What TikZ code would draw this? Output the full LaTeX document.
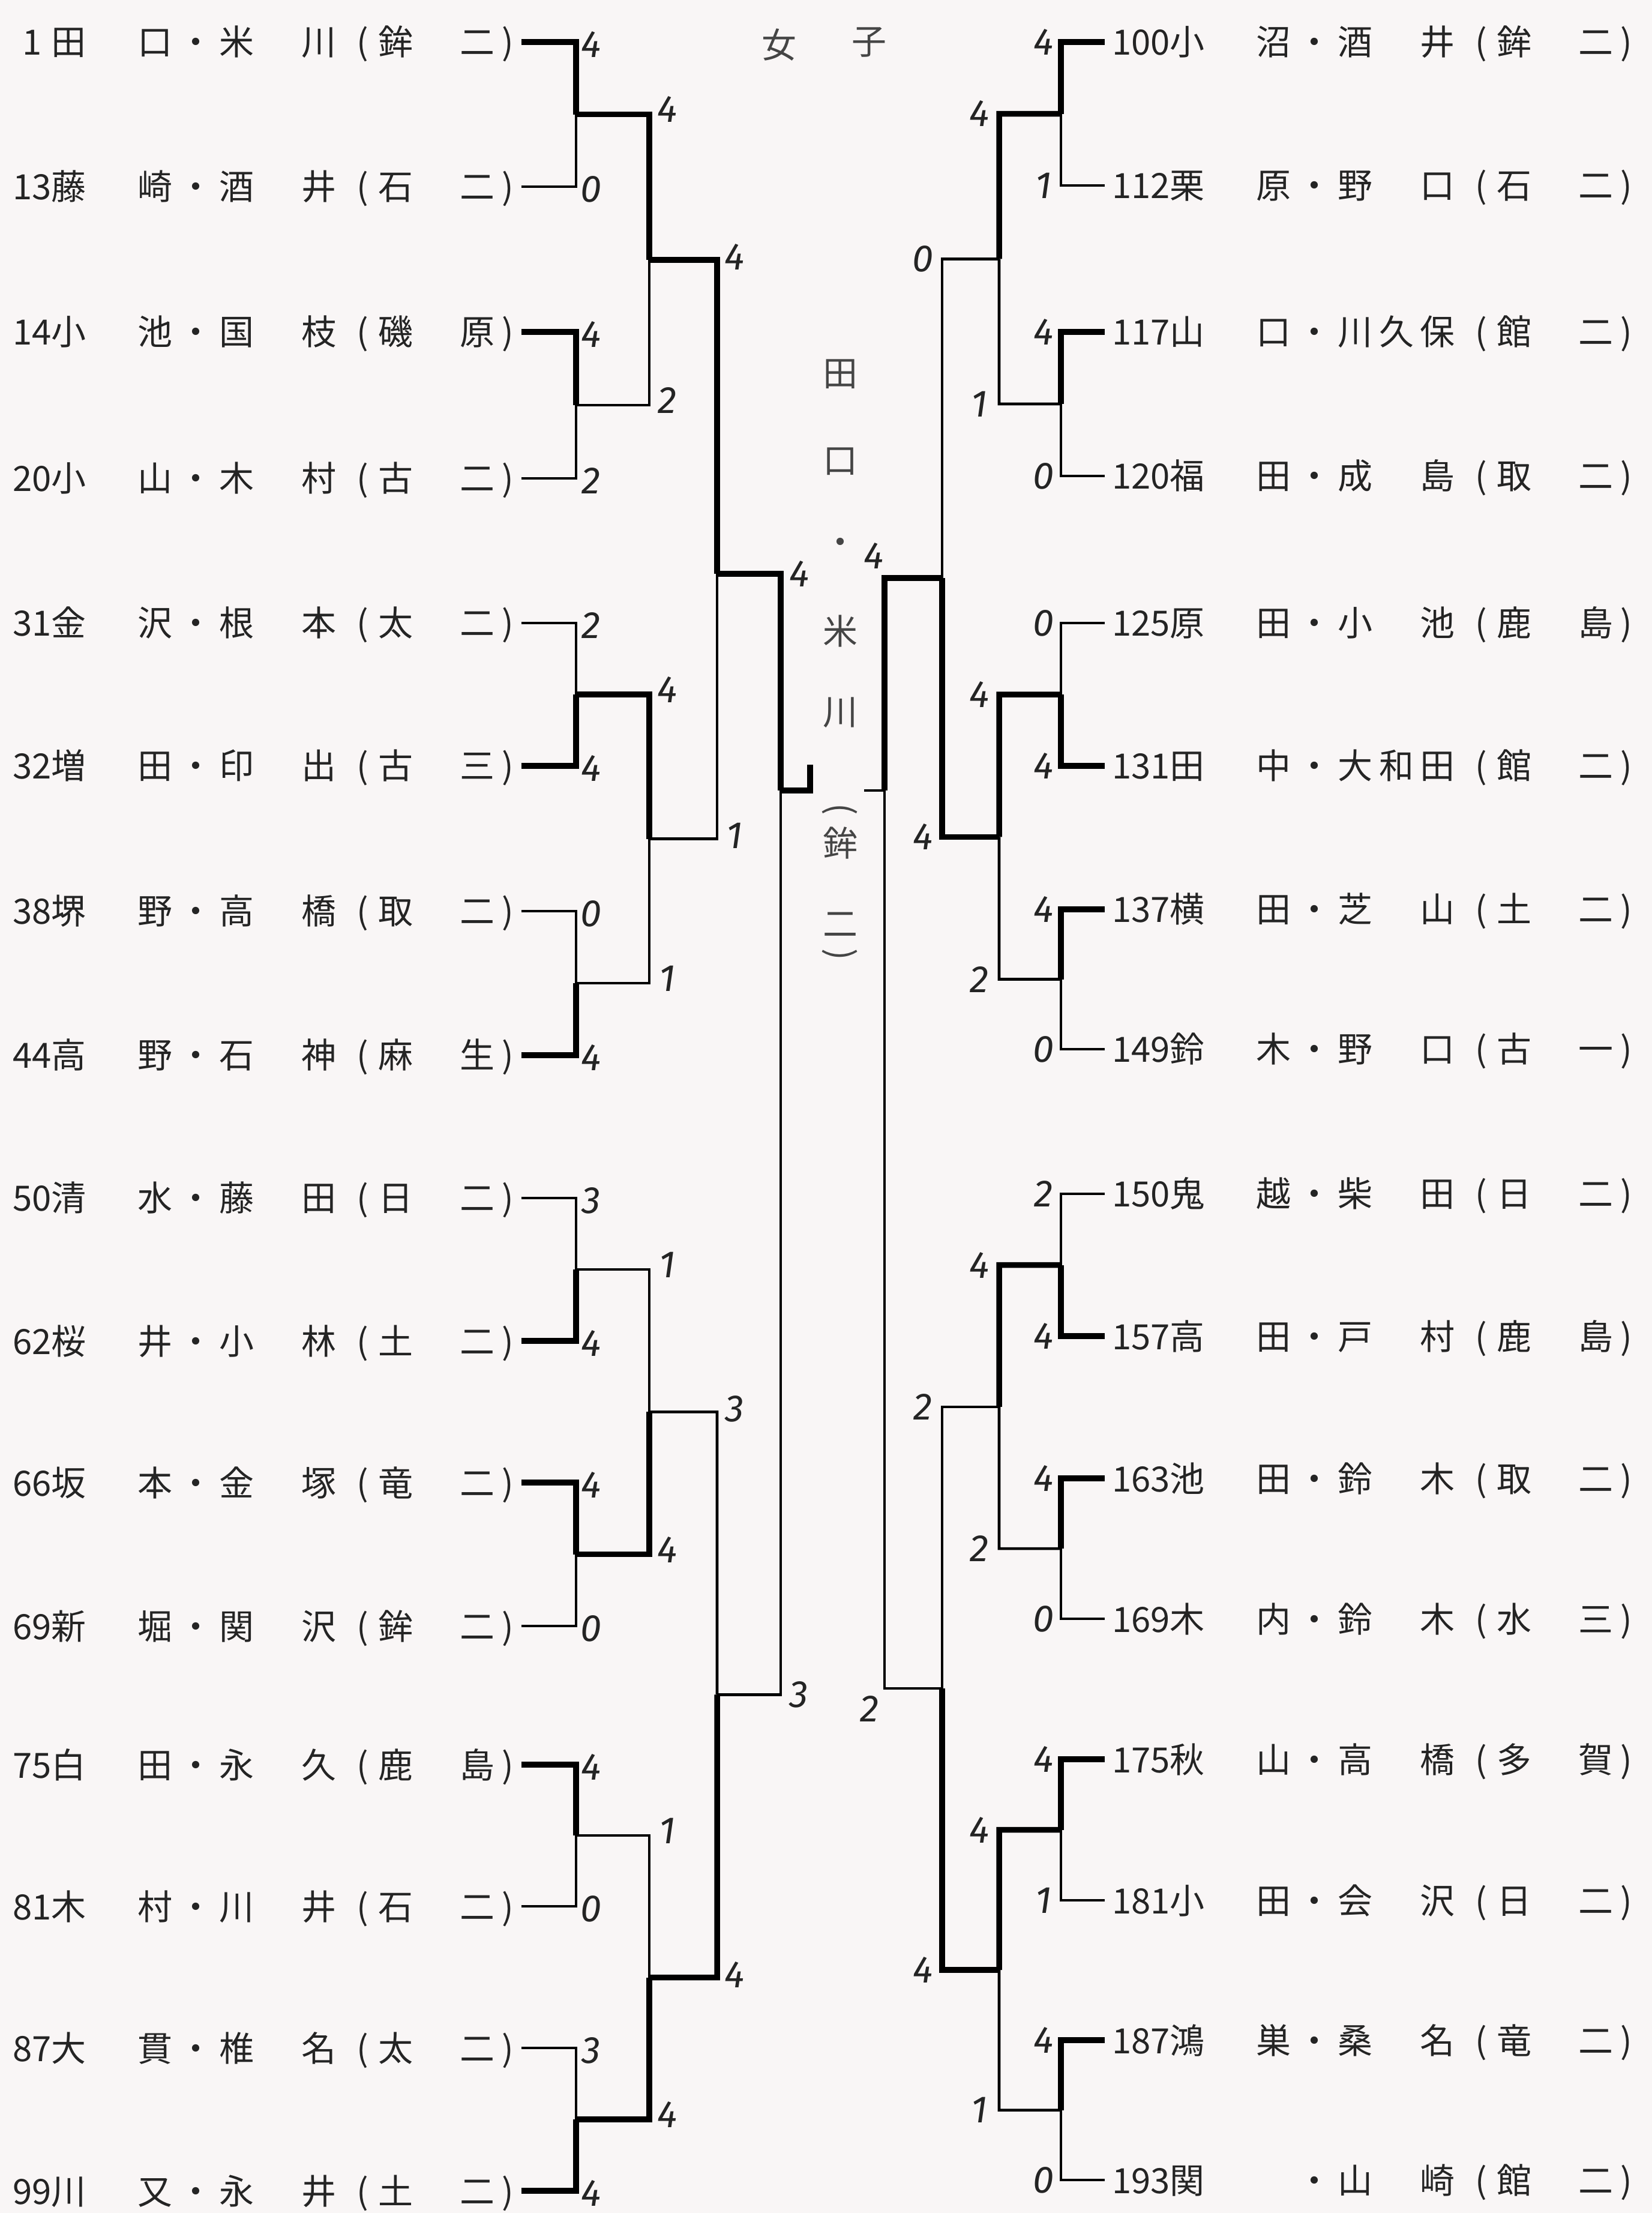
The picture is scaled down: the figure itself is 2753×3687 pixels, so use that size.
\documentclass[tikz,border=0pt]{standalone}
\usepackage{fontspec}
\usepackage{tikz}
\usetikzlibrary{calc}

\newfontfamily\jp{Noto Sans CJK JP}
\newfontfamily\hand{Fira Sans}
\definecolor{paper}{HTML}{F9F6F6}
\definecolor{ink}{HTML}{242424}

\newlength\px
\setlength\px{0.1mm}
\newcommand\jfont{\jp\fontsize{16.5pt}{18pt}\selectfont}
\newcommand\sfont{\hand\fontsize{18pt}{18pt}\selectfont\itshape}

% one pairing: number width, number, first name, second name, school
\newcommand\entry[5]{%
  \makebox[#1\px]{#2}%
  \hbox to 202\px{#3}%
  \makebox[78\px]{・}%
  \hbox to 195\px{#4}%
  \makebox[70\px][r]{(\hspace{17\px}}%
  \hbox to 194\px{#5}%
  \hspace{12\px})}

% one bout: top start, top corner, bottom start, bottom corner, join, winner (0 top, 1 bottom)
\newcommand\bout[6]{%
  \ifnum#6=0
    \draw[won] (#1) -- (#2) -- (#5);
    \draw[lost] (#3) -- (#4) -- (#5);
  \else
    \draw[lost] (#1) -- (#2) -- (#5);
    \draw[won] (#3) -- (#4) -- (#5);
  \fi}

\tikzset{
  entry/.style={anchor=west, inner sep=0pt, outer xsep=3.4pt, text height=14.5pt, text depth=2pt, font=\jfont, text=ink},
  score/.style={inner sep=0pt, font=\sfont, text=ink},
  champ/.style={inner sep=0pt, font=\jfont, text=ink!85},
  won/.style={line width=2.7pt},
  lost/.style={line width=1.3pt},
}

\begin{document}
\begin{tikzpicture}[x=0.1mm,y=-0.1mm]
    % Paper
    \fill[paper] (0,0) rectangle (2753,3687);
    \useasboundingbox (0,0) rectangle (2753,3687);

    % Title
    \node[champ] (ttl1) at (1298,75) {女};
    \node[champ] (ttl2) at (1448,70) {子};

    % Left pairings
    \node[entry] (L0) at (10,70) {\entry{64}{1}{田\hfil 口}{米\hfil 川}{鉾\hfil 二}};
    \node[entry] (L1) at (10,311) {\entry{64}{13}{藤\hfil 崎}{酒\hfil 井}{石\hfil 二}};
    \node[entry] (L2) at (10,553) {\entry{64}{14}{小\hfil 池}{国\hfil 枝}{磯\hfil 原}};
    \node[entry] (L3) at (10,797) {\entry{64}{20}{小\hfil 山}{木\hfil 村}{古\hfil 二}};
    \node[entry] (L4) at (10,1038) {\entry{64}{31}{金\hfil 沢}{根\hfil 本}{太\hfil 二}};
    \node[entry] (L5) at (10,1276) {\entry{64}{32}{増\hfil 田}{印\hfil 出}{古\hfil 三}};
    \node[entry] (L6) at (10,1518) {\entry{64}{38}{堺\hfil 野}{高\hfil 橋}{取\hfil 二}};
    \node[entry] (L7) at (10,1758) {\entry{64}{44}{高\hfil 野}{石\hfil 神}{麻\hfil 生}};
    \node[entry] (L8) at (10,1996) {\entry{64}{50}{清\hfil 水}{藤\hfil 田}{日\hfil 二}};
    \node[entry] (L9) at (10,2234) {\entry{64}{62}{桜\hfil 井}{小\hfil 林}{土\hfil 二}};
    \node[entry] (L10) at (10,2470) {\entry{64}{66}{坂\hfil 本}{金\hfil 塚}{竜\hfil 二}};
    \node[entry] (L11) at (10,2709) {\entry{64}{69}{新\hfil 堀}{関\hfil 沢}{鉾\hfil 二}};
    \node[entry] (L12) at (10,2940) {\entry{64}{75}{白\hfil 田}{永\hfil 久}{鹿\hfil 島}};
    \node[entry] (L13) at (10,3176) {\entry{64}{81}{木\hfil 村}{川\hfil 井}{石\hfil 二}};
    \node[entry] (L14) at (10,3412) {\entry{64}{87}{大\hfil 貫}{椎\hfil 名}{太\hfil 二}};
    \node[entry] (L15) at (10,3650) {\entry{64}{99}{川\hfil 又}{永\hfil 井}{土\hfil 二}};

    % Right pairings
    \node[entry] (R0) at (1841,70) {\entry{97}{100}{小\hfil 沼}{酒\hfil 井}{鉾\hfil 二}};
    \node[entry] (R1) at (1841,309) {\entry{97}{112}{栗\hfil 原}{野\hfil 口}{石\hfil 二}};
    \node[entry] (R2) at (1841,553) {\entry{97}{117}{山\hfil 口}{川\hfil 久\hfil 保}{館\hfil 二}};
    \node[entry] (R3) at (1841,793) {\entry{97}{120}{福\hfil 田}{成\hfil 島}{取\hfil 二}};
    \node[entry] (R4) at (1841,1038) {\entry{97}{125}{原\hfil 田}{小\hfil 池}{鹿\hfil 島}};
    \node[entry] (R5) at (1841,1276) {\entry{97}{131}{田\hfil 中}{大\hfil 和\hfil 田}{館\hfil 二}};
    \node[entry] (R6) at (1841,1515) {\entry{97}{137}{横\hfil 田}{芝\hfil 山}{土\hfil 二}};
    \node[entry] (R7) at (1841,1748) {\entry{97}{149}{鈴\hfil 木}{野\hfil 口}{古\hfil 一}};
    \node[entry] (R8) at (1841,1989) {\entry{97}{150}{鬼\hfil 越}{柴\hfil 田}{日\hfil 二}};
    \node[entry] (R9) at (1841,2226) {\entry{97}{157}{高\hfil 田}{戸\hfil 村}{鹿\hfil 島}};
    \node[entry] (R10) at (1841,2463) {\entry{97}{163}{池\hfil 田}{鈴\hfil 木}{取\hfil 二}};
    \node[entry] (R11) at (1841,2697) {\entry{97}{169}{木\hfil 内}{鈴\hfil 木}{水\hfil 三}};
    \node[entry] (R12) at (1841,2931) {\entry{97}{175}{秋\hfil 山}{高\hfil 橋}{多\hfil 賀}};
    \node[entry] (R13) at (1841,3166) {\entry{97}{181}{小\hfil 田}{会\hfil 沢}{日\hfil 二}};
    \node[entry] (R14) at (1841,3399) {\entry{97}{187}{鴻\hfil 巣}{桑\hfil 名}{竜\hfil 二}};
    \node[entry] (R15) at (1841,3632) {\entry{97}{193}{関\hfil}{山\hfil 崎}{館\hfil 二}};

    % Left bracket
    \coordinate (lr1) at (960,0);
    \coordinate (lr2) at (1082,0);
    \coordinate (lr3) at (1195,0);
    \coordinate (lr4) at (1301,0);
    \foreach \k/\w in {0/0,1/0,2/1,3/1,4/1,5/0,6/0,7/1}{
        \pgfmathtruncatemacro\hi{2*\k}
        \pgfmathtruncatemacro\lo{2*\k+1}
        \coordinate (lj1\k) at ($(L\hi.east -| lr1)!.5!(L\lo.east -| lr1)$);
        \bout{L\hi.east}{L\hi.east -| lr1}{L\lo.east}{L\lo.east -| lr1}{lj1\k}{\w}
    }
    \foreach \m/\w in {0/0,1/0,2/1,3/1}{
        \pgfmathtruncatemacro\hi{2*\m}
        \pgfmathtruncatemacro\lo{2*\m+1}
        \coordinate (lj2\m) at ($(lj1\hi -| lr2)!.5!(lj1\lo -| lr2)$);
        \bout{lj1\hi}{lj1\hi -| lr2}{lj1\lo}{lj1\lo -| lr2}{lj2\m}{\w}
    }
    \coordinate (lj30) at (1195,956);
    \coordinate (lj31) at ($(lj22 -| lr3)!.5!(lj23 -| lr3)$);
    \bout{lj20}{lj20 -| lr3}{lj21}{lj21 -| lr3}{lj30}{0}
    \bout{lj22}{lj22 -| lr3}{lj23}{lj23 -| lr3}{lj31}{1}
    \coordinate (lfin) at (1301,1317);
    \bout{lj30}{lj30 -| lr4}{lj31}{lj31 -| lr4}{lfin}{0}
    \coordinate (lhook) at (1350,1274);
    \draw[won] (lfin) -| (lhook);

    % Right bracket
    \coordinate (rr1) at (1768,0);
    \coordinate (rr2) at (1665,0);
    \coordinate (rr3) at (1570,0);
    \coordinate (rr4) at (1474,0);
    \foreach \k/\w in {0/0,1/0,2/1,3/0,4/1,5/0,6/0,7/0}{
        \pgfmathtruncatemacro\hi{2*\k}
        \pgfmathtruncatemacro\lo{2*\k+1}
        \coordinate (rj1\k) at ($(R\hi.west -| rr1)!.5!(R\lo.west -| rr1)$);
        \bout{R\hi.west}{R\hi.west -| rr1}{R\lo.west}{R\lo.west -| rr1}{rj1\k}{\w}
    }
    \foreach \m/\w in {0/0,1/0,2/0,3/0}{
        \pgfmathtruncatemacro\hi{2*\m}
        \pgfmathtruncatemacro\lo{2*\m+1}
        \coordinate (rj2\m) at ($(rj1\hi -| rr2)!.5!(rj1\lo -| rr2)$);
        \bout{rj1\hi}{rj1\hi -| rr2}{rj1\lo}{rj1\lo -| rr2}{rj2\m}{\w}
    }
    \coordinate (rj30) at (1570,963);
    \coordinate (rj31) at ($(rj22 -| rr3)!.5!(rj23 -| rr3)$);
    \bout{rj20}{rj20 -| rr3}{rj21}{rj21 -| rr3}{rj30}{1}
    \bout{rj22}{rj22 -| rr3}{rj23}{rj23 -| rr3}{rj31}{1}
    \coordinate (rfin) at (1474,1317);
    \bout{rj30}{rj30 -| rr4}{rj31}{rj31 -| rr4}{rfin}{0}
    \coordinate (rstub) at (1440,1317);
    \draw[lost] (rfin) -- (rstub);

    % Scores
    \foreach \s [count=\i from 0] in {4,0,4,2,2,4,0,4,3,4,4,0,4,0,3,4}
        \node[score] (ls1\i) at ($(L\i.east -| lr1)+(25,4)$) {\s};
    \foreach \s [count=\k from 0] in {4,2,4,1,1,4,1,4}
        \node[score] (ls2\k) at ($(lj1\k -| lr2)+(30,-8)$) {\s};
    \foreach \s [count=\m from 0] in {4,1,3,4}
        \node[score] (ls3\m) at ($(lj2\m -| lr3)+(29,-5)$) {\s};
    \node[score] (ls40) at ($(lj30 -| lr4)+(31,0)$) {4};
    \node[score] (ls41) at ($(lj31 -| lr4)+(30,0)$) {3};
    \foreach \s [count=\i from 0] in {4,1,4,0,0,4,4,0,2,4,4,0,4,1,4,0}
        \node[score] (rs1\i) at ($(R\i.west -| rr1)+(-29,0)$) {\s};
    \foreach \s [count=\k from 0] in {4,1,4,2,4,2,4,1}
        \node[score] (rs2\k) at ($(rj1\k -| rr2)+(-33,0)$) {\s};
    \foreach \s [count=\m from 0] in {0,4,2,4}
        \node[score] (rs3\m) at ($(rj2\m -| rr3)+(-32,0)$) {\s};
    \node[score] (rs40) at ($(rj30 -| rr4)+(-18,-37)$) {4};
    \node[score] (rs41) at ($(rj31 -| rr4)+(-25,34)$) {2};

    % Champion, set vertically
    \foreach \c/\y [count=\i] in {田/623,口/769,・/910,米/1051,川/1187,鉾/1404,二/1540}
        \node[champ] (ch\i) at (1400,\y) {\c};
    \node[champ, rotate=-90] (chl) at (1400,1348) {(};
    \node[champ, rotate=-90] (chr) at (1400,1590) {)};
\end{tikzpicture}
\end{document}
